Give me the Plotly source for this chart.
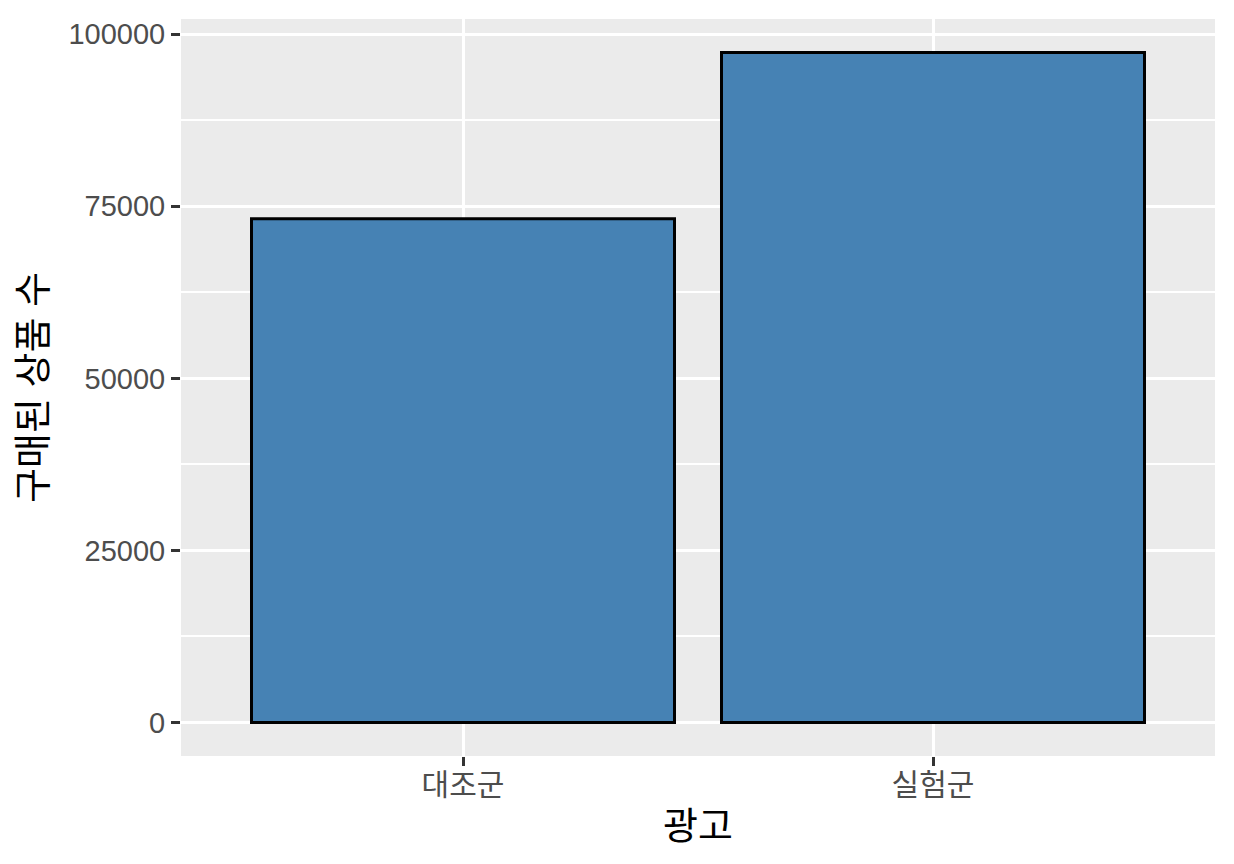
import plotly.graph_objects as go

# data
groups = ['대조군', '실험군']
purchases = [73200, 97350]

ymax = max(purchases)
yrange = [-0.05 * ymax, 1.05 * ymax]

font_family = "Liberation Sans, Noto Sans CJK KR, sans-serif"

fig = go.Figure(
    go.Bar(
        x=groups,
        y=purchases,
        width=0.9,
        marker=dict(color='#4682B4', line=dict(color='black', width=3)),
    )
)

# page body has an 8px margin, so the figure is shrunk by that much
fig.update_layout(
    width=1226,
    height=856,
    margin=dict(l=173, r=19, t=11, b=108),
    paper_bgcolor='white',
    plot_bgcolor='#EBEBEB',
    font=dict(family=font_family, color='#4D4D4D'),
    showlegend=False,
)

fig.update_xaxes(
    range=[-0.6, 1.6],
    showgrid=True, gridcolor='white', gridwidth=3,
    ticks='outside', ticklen=9, tickwidth=2.5, tickcolor='#333333',
    tickfont=dict(size=30, color='#4D4D4D'),
    ticklabelstandoff=-7,
    title=dict(text='광고', font=dict(size=38, color='black'), standoff=12),
    zeroline=False, showline=False,
)

fig.update_yaxes(
    range=yrange,
    tickvals=[0, 25000, 50000, 75000, 100000],
    ticktext=['0', '25000', '50000', '75000', '100000'],
    showgrid=True, gridcolor='white', gridwidth=3,
    minor=dict(tickvals=[12500, 37500, 62500, 87500], showgrid=True,
               gridcolor='white', gridwidth=1.7, ticks=''),
    ticks='outside', ticklen=9, tickwidth=2.5, tickcolor='#333333',
    tickfont=dict(size=29, color='#4D4D4D'),
    title=dict(text='구매된 상품 수', font=dict(size=38, color='black'), standoff=10),
    zeroline=False, showline=False,
)

fig.write_html("out.html")
